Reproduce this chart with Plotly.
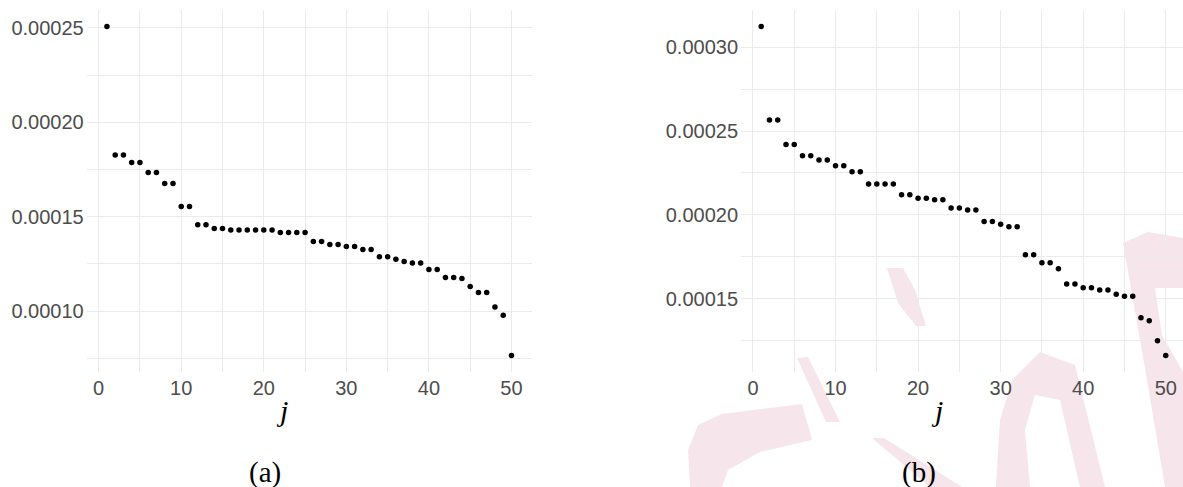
import plotly.graph_objects as go

j_index = list(range(1, 51))

values_a = [
    0.0002508, 0.0001827, 0.0001827, 0.0001787, 0.0001787, 0.0001734, 0.0001734,
    0.0001676, 0.0001676, 0.0001554, 0.0001554, 0.0001457, 0.0001457, 0.0001437,
    0.0001437, 0.0001429, 0.0001429, 0.0001429, 0.0001429, 0.0001429, 0.0001429,
    0.0001416, 0.0001416, 0.0001416, 0.0001416, 0.0001368, 0.0001368, 0.0001353,
    0.0001353, 0.0001342, 0.0001342, 0.0001326, 0.0001326, 0.0001287, 0.0001287,
    0.0001275, 0.0001263, 0.0001254, 0.0001254, 0.0001220, 0.0001220, 0.0001178,
    0.0001178, 0.0001172, 0.0001130, 0.0001098, 0.0001098, 0.0001022, 0.0000978,
    0.0000764,
]

values_b = [
    0.0003123, 0.0002565, 0.0002565, 0.0002420, 0.0002420, 0.0002352, 0.0002352,
    0.0002327, 0.0002327, 0.0002293, 0.0002293, 0.0002257, 0.0002257, 0.0002184,
    0.0002184, 0.0002184, 0.0002184, 0.0002120, 0.0002120, 0.0002100, 0.0002100,
    0.0002091, 0.0002091, 0.0002041, 0.0002041, 0.0002029, 0.0002029, 0.0001961,
    0.0001961, 0.0001945, 0.0001929, 0.0001929, 0.0001762, 0.0001762, 0.0001715,
    0.0001715, 0.0001679, 0.0001588, 0.0001588, 0.0001566, 0.0001566, 0.0001552,
    0.0001552, 0.0001528, 0.0001516, 0.0001516, 0.0001387, 0.0001369, 0.0001250,
    0.0001162,
]

x_ticks = [0, 10, 20, 30, 40, 50]
y_ticks_a = [0.00010, 0.00015, 0.00020, 0.00025]
y_ticks_b = [0.00015, 0.00020, 0.00025, 0.00030]
panel_labels = ["(a)", "(b)"]
x_title = "j"

W, H = 1183, 487
GRID = "#EBEBEB"
TICKCOL = "#4D4D4D"

fig = go.Figure()
fig.add_trace(go.Scatter(x=j_index, y=values_a, mode="markers",
                         marker=dict(color="black", size=5.5),
                         xaxis="x", yaxis="y", showlegend=False))
fig.add_trace(go.Scatter(x=j_index, y=values_b, mode="markers",
                         marker=dict(color="black", size=5.5),
                         xaxis="x2", yaxis="y2", showlegend=False))

def xaxis(domain, rng, anchor):
    return dict(domain=domain, range=rng, anchor=anchor,
                tickvals=x_ticks, ticktext=[str(v) for v in x_ticks],
                showgrid=True, gridcolor=GRID, gridwidth=1.1,
                minor=dict(dtick=5, tick0=0, showgrid=True, gridcolor=GRID, gridwidth=0.8),
                zeroline=False, showline=False, ticks="",
                tickfont=dict(family="Liberation Sans, Arial, sans-serif", size=20, color=TICKCOL),
                ticklabelstandoff=2, fixedrange=True)

def yaxis(domain, rng, anchor, ticks):
    return dict(domain=domain, range=rng, anchor=anchor,
                tickvals=ticks, ticktext=["%.5f" % v for v in ticks],
                showgrid=True, gridcolor=GRID, gridwidth=1.1,
                minor=dict(dtick=0.000025, tick0=0, showgrid=True, gridcolor=GRID, gridwidth=0.8),
                zeroline=False, showline=False, ticks="",
                tickfont=dict(family="Liberation Sans, Arial, sans-serif", size=20, color=TICKCOL),
                ticklabelstandoff=2, fixedrange=True)

ydom = [115 / H, 477 / H]
fig.update_layout(
    width=W, height=H,
    margin=dict(l=0, r=0, t=0, b=0, autoexpand=False),
    paper_bgcolor="white", plot_bgcolor="rgba(0,0,0,0)",
    xaxis=xaxis([86.7 / W, 531.7 / W], [-1.45, 52.45], "y"),
    yaxis=yaxis(ydom, [0.0000677, 0.0002595], "x", y_ticks_a),
    xaxis2=xaxis([741 / W, 1.0], [-1.45, 52.09], "y2"),
    yaxis2=yaxis(ydom, [0.0001064, 0.0003221], "x2", y_ticks_b),
)

annots = []
for cx in (282, 937):
    annots.append(dict(text="<i>" + x_title + "</i>", x=cx / W, y=1 - 410 / H,
                       xref="paper", yref="paper", showarrow=False,
                       xanchor="center", yanchor="middle",
                       font=dict(family="Liberation Serif, serif", size=30, color="black")))
for cx, lab in zip((265, 919), panel_labels):
    annots.append(dict(text=lab, x=cx / W, y=1 - 472 / H,
                       xref="paper", yref="paper", showarrow=False,
                       xanchor="center", yanchor="middle",
                       font=dict(family="Liberation Serif, serif", size=29, color="black")))
fig.update_layout(annotations=annots)

# faint watermark strokes seen behind the right panel
PINK = "rgba(225,170,190,0.30)"
polys = [
    [(887, 268), (903, 268), (915, 290), (926, 326), (916, 326), (898, 303)],
    [(797, 358), (808, 357), (840, 422), (826, 422)],
    [(690, 487), (688, 450), (698, 425), (722, 414), (802, 404), (812, 440), (760, 452), (728, 470), (722, 487)],
    [(872, 438), (884, 438), (962, 487), (930, 487)],
    [(996, 487), (1000, 420), (1012, 380), (1040, 352), (1075, 365), (1105, 487), (1080, 487), (1060, 400), (1035, 395), (1025, 430), (1030, 487)],
    [(1123, 243), (1148, 232), (1183, 238), (1183, 288), (1155, 288), (1162, 335), (1183, 372), (1183, 487), (1165, 487), (1147, 380)],
]
shapes = []
for poly in polys:
    path = "M " + " L ".join("%.4f,%.4f" % (px / W, 1 - py / H) for px, py in poly) + " Z"
    shapes.append(dict(type="path", path=path, xref="paper", yref="paper",
                       fillcolor=PINK, line=dict(width=0), layer="below"))
fig.update_layout(shapes=shapes)

fig.write_html("out.html",
               config={"displayModeBar": False},
               post_script="document.body.style.margin='0';document.body.style.padding='0';"
                           "document.documentElement.style.overflow='hidden';")
